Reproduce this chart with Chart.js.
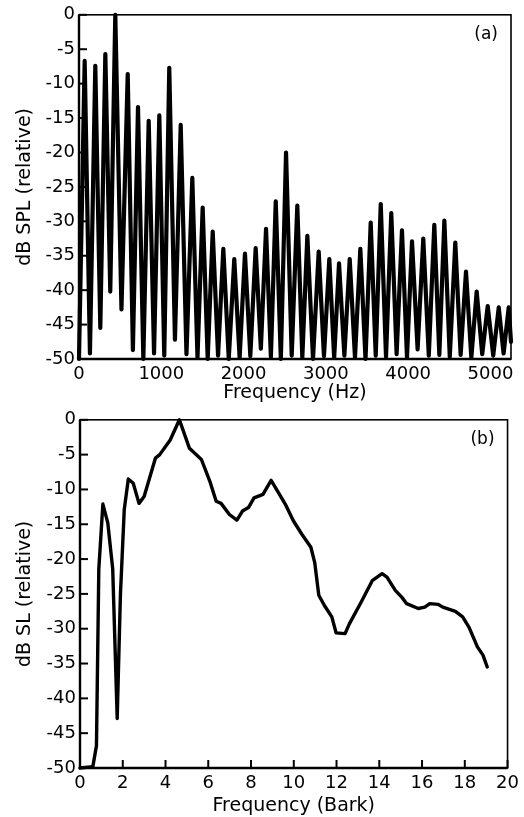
<!DOCTYPE html>
<html>
<head>
<meta charset="utf-8">
<script src="https://cdn.jsdelivr.net/npm/chart.js@4.4.0/dist/chart.umd.min.js"></script>
<style>
  body { margin: 0; background: #fff; }
  #wrap { position: relative; width: 524px; height: 817px; }
  canvas { position: absolute; left: 0; }
  #chartA { top: 0; }
  #chartB { top: 405px; }
</style>
</head>
<body>
<div id="wrap">
  <canvas id="chartA" width="524" height="405"></canvas>
  <canvas id="chartB" width="524" height="412"></canvas>
</div>
<script>
// (a) line spectrum: harmonic peaks and the troughs between them
const specHz = [
    0, 69, 133, 198, 259, 320, 380, 441, 516, 592, 655, 717, 782, 847, 912, 976,
    1036, 1097, 1166, 1236, 1306, 1377, 1440, 1503, 1564, 1625, 1690, 1754, 1820, 1887,
    1952, 2017, 2082, 2147, 2210, 2273, 2332, 2391, 2453, 2516, 2585, 2653, 2714, 2775,
    2844, 2913, 2977, 3042, 3101, 3160, 3225, 3290, 3354, 3419, 3482, 3545, 3606, 3667,
    3731, 3795, 3860, 3925, 3986, 4047, 4115, 4184, 4251, 4318, 4379, 4440, 4506, 4573,
    4638, 4703, 4768, 4833, 4900, 4967, 5034, 5101, 5160, 5222, 5250
];
const specDb = [
    -50, -6.7, -49.2, -7.4, -45.5, -5.7, -40.2, 0, -42.8, -8.6, -48.7, -13.4, -50, -15.4, -49.2, -14.6,
    -49.5, -7.7, -47.2, -16.0, -49.3, -23.7, -49.8, -28.0, -50, -31.5, -49.5, -34.0, -50, -35.5,
    -49.8, -34.7, -49.6, -33.9, -48.5, -31.1, -49.7, -27.1, -50, -20.0, -49.5, -27.7, -49.8, -32.1,
    -50, -34.4, -49.6, -35.5, -49.8, -36.1, -49.5, -35.5, -49.8, -34.0, -50, -30.2, -49.5, -27.5,
    -49.7, -28.8, -49.3, -31.3, -49.8, -32.9, -48.6, -32.5, -49.5, -30.5, -49.4, -29.9, -49.7, -33.1,
    -49.4, -37.3, -49.8, -40.2, -49.3, -42.3, -49.5, -42.5, -49.2, -42.5, -47.5
];

// (b) excitation pattern on the Bark scale
const barkPts = [
    0, 0.6, 0.77, 0.88, 1.07, 1.3, 1.53, 1.74, 1.89, 2.07, 2.26, 2.49, 2.76, 3.0, 3.53,
    3.73, 4.22, 4.65, 5.12, 5.68, 6.07, 6.37, 6.6, 6.99, 7.34, 7.6, 7.88, 8.14, 8.56,
    8.94, 9.29, 9.6, 9.98, 10.37, 10.8, 10.98, 11.17, 11.44, 11.78, 11.98, 12.4, 12.6,
    13.13, 13.67, 14.13, 14.36, 14.75, 15.06, 15.28, 15.82, 16.13, 16.36, 16.74, 16.97,
    17.56, 17.9, 18.2, 18.59, 18.85, 19.05
];
const slDb = [
    -50, -49.8, -46.8, -21.4, -12.1, -14.8, -21.4, -42.9, -25.2, -12.9, -8.5, -9.1, -12.0, -11.0, -5.5,
    -5.0, -2.9, 0, -4.1, -5.7, -8.8, -11.7, -12.0, -13.6, -14.4, -13.1, -12.6, -11.2, -10.7,
    -8.7, -10.5, -12.1, -14.5, -16.4, -18.3, -20.5, -25.2, -26.7, -28.3, -30.6, -30.7, -29.3,
    -26.3, -23.1, -22.1, -22.6, -24.5, -25.5, -26.4, -27.1, -26.9, -26.4, -26.5, -26.9,
    -27.5, -28.3, -29.8, -32.6, -33.8, -35.5
];

const hzTicks = [0, 1000, 2000, 3000, 4000, 5000];
const barkTicks = [0, 2, 4, 6, 8, 10, 12, 14, 16, 18, 20];
const dbTicks = [0, -5, -10, -15, -20, -25, -30, -35, -40, -45, -50];

const FONT = 'DejaVu Sans';

// box round the plot, short tick marks pointing inwards, panel letter
const framePlugin = {
    id: 'frame',
    afterDatasetsDraw(chart, args, opts) {
        const { ctx, chartArea: a, scales } = chart;
        ctx.save();
        ctx.strokeStyle = '#000';
        ctx.lineWidth = 1.6;
        ctx.strokeRect(a.left, a.top, a.right - a.left, a.bottom - a.top);
        ctx.lineWidth = 2.4;
        ctx.beginPath();
        ctx.moveTo(a.left, a.top);
        ctx.lineTo(a.left, a.bottom);
        ctx.lineTo(a.right, a.bottom);
        ctx.stroke();

        ctx.lineWidth = 2;
        scales.y.ticks.forEach(t => {
            const y = scales.y.getPixelForValue(t.value);
            ctx.beginPath();
            ctx.moveTo(a.left, y);
            ctx.lineTo(a.left + 8, y);
            ctx.stroke();
        });
        if (opts.xTickMarks) {
            scales.x.ticks.forEach(t => {
                const x = scales.x.getPixelForValue(t.value);
                ctx.beginPath();
                ctx.moveTo(x, a.bottom);
                ctx.lineTo(x, a.bottom - 8);
                ctx.stroke();
            });
        }

        ctx.fillStyle = '#000';
        ctx.font = '17px "' + FONT + '"';
        ctx.textAlign = 'right';
        ctx.textBaseline = 'middle';
        ctx.fillText(opts.label, a.right - 13, a.top + 20);
        ctx.restore();
    }
};

function buildChart(id, cfg) {
    return new Chart(document.getElementById(id), {
        type: 'scatter',
        data: {
            datasets: [{
                data: cfg.xs.map((x, i) => ({ x: x, y: cfg.ys[i] })),
                showLine: true,
                borderColor: '#000',
                borderWidth: cfg.lineWidth,
                borderJoinStyle: 'round',
                borderCapStyle: 'round',
                pointRadius: 0,
                tension: 0,
                clip: false
            }]
        },
        plugins: [framePlugin],
        options: {
            responsive: false,
            animation: false,
            layout: { padding: { top: cfg.padTop, right: cfg.padRight, left: 0, bottom: 0 } },
            plugins: {
                legend: { display: false },
                tooltip: { enabled: false },
                frame: { label: cfg.label, xTickMarks: cfg.xTickMarks }
            },
            scales: {
                x: {
                    type: 'linear',
                    min: 0,
                    max: cfg.xMax,
                    afterBuildTicks: s => { s.ticks = cfg.xTicks.map(v => ({ value: v })); },
                    afterFit: s => { s.height = cfg.xHeight; },
                    grid: { display: false, drawTicks: false },
                    border: { display: false },
                    ticks: {
                        color: '#000', font: { family: FONT, size: 18 }, padding: 5,
                        maxRotation: 0, autoSkip: false,
                        callback: v => String(v)
                    },
                    title: {
                        display: true, text: cfg.xTitle, color: '#000',
                        font: { family: FONT, size: 19 }, padding: { top: 0, bottom: cfg.xTitlePad }
                    }
                },
                y: {
                    type: 'linear',
                    min: -50,
                    max: 0,
                    afterBuildTicks: s => { s.ticks = dbTicks.map(v => ({ value: v })); },
                    afterFit: s => { s.width = cfg.yWidth; },
                    grid: { display: false, drawTicks: false },
                    border: { display: false },
                    ticks: { color: '#000', font: { family: FONT, size: 18 }, padding: 4, callback: v => String(v) },
                    title: {
                        display: true, text: cfg.yTitle, color: '#000',
                        font: { family: FONT, size: 19 }, padding: { top: 14, bottom: 0 }
                    }
                }
            }
        }
    });
}

document.addEventListener('DOMContentLoaded', function() {
    buildChart('chartA', {
        xs: specHz, ys: specDb, lineWidth: 4.2,
        xMax: 5250, xTicks: hzTicks, xTickMarks: false,
        xTitle: 'Frequency (Hz)', yTitle: 'dB SPL (relative)',
        padTop: 11, padRight: 13, xHeight: 46, yWidth: 79, xTitlePad: 1,
        label: '(a)'
    });
    buildChart('chartB', {
        xs: barkPts, ys: slDb, lineWidth: 3.4,
        xMax: 20, xTicks: barkTicks, xTickMarks: true,
        xTitle: 'Frequency (Bark)', yTitle: 'dB SL (relative)',
        padTop: 13, padRight: 10, xHeight: 49, yWidth: 80, xTitlePad: 0,
        label: '(b)'
    });
});
</script>
</body>
</html>
